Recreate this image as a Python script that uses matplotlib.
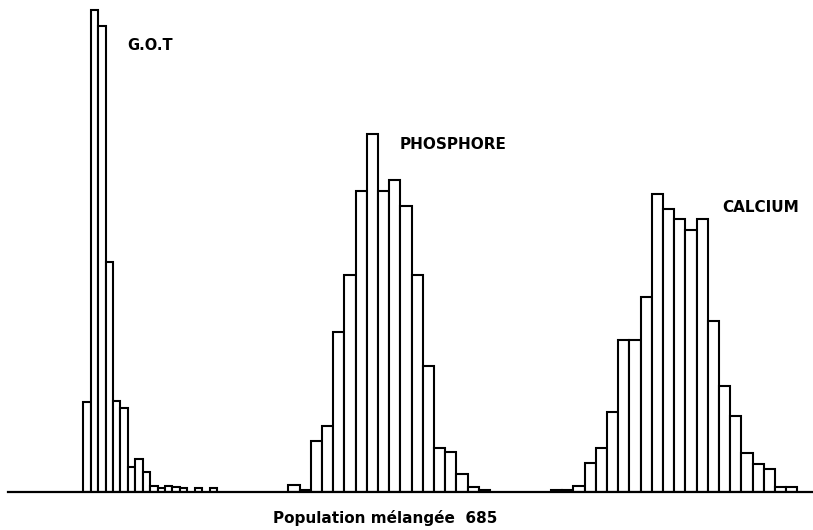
import matplotlib
matplotlib.use("Agg")
import matplotlib.pyplot as plt
import numpy as np

# Bar heights (arbitrary units, no y-axis shown)
got_heights = [90, 482, 466, 230, 91, 84, 25, 33, 20, 6, 4, 6, 5, 4, 0, 4, 0, 4]
phosphore_heights = [7, 2.5, 51, 66, 160, 217, 301, 358, 301, 312, 286, 217,
                     126, 44, 40, 18, 5, 2]
calcium_heights = [2.5, 2.5, 6.5, 29, 44, 80, 152, 152, 195, 298, 283, 273,
                   262, 273, 171, 106, 76, 39, 28, 23, 5, 5]

labels = ["G.O.T", "PHOSPHORE", "CALCIUM"]
caption = "Population mélangée  685"

# Layout (figure pixel units)
W, H = 813, 530
base_px = 38
top = H - base_px
fig = plt.figure(figsize=(W / 100, H / 100), dpi=100)
ax = fig.add_axes([0, base_px / H, 1, 1 - base_px / H])
ax.set_xlim(0, W)
ax.set_ylim(0, top)
ax.axis("off")

groups = [
    (got_heights, 83.3, 7.43),
    (phosphore_heights, 288.3, 11.2),
    (calcium_heights, 551.0, 11.2),
]
for heights, start, width in groups:
    x = start + width * np.arange(len(heights))
    h = np.array(heights, dtype=float)
    mask = h > 0
    ax.bar(x[mask], h[mask], width=width, align="edge", facecolor="white",
           edgecolor="black", linewidth=1.5)

ax.axhline(0, xmin=8 / W, xmax=1, color="black", linewidth=1.6, clip_on=False)

font = dict(family="DejaVu Sans", fontweight="bold", color="black")
ax.text(150, top - 45, labels[0], ha="center", va="center", fontsize=10.5, **font)
ax.text(453.5, top - 144.5, labels[1], ha="center", va="center", fontsize=11, **font)
ax.text(761, top - 208, labels[2], ha="center", va="center", fontsize=11, **font)
ax.text(385, top - 523, caption, ha="center", va="baseline", clip_on=False,
        fontsize=11, **font)

fig.savefig("out.png", dpi=100, facecolor="white")
